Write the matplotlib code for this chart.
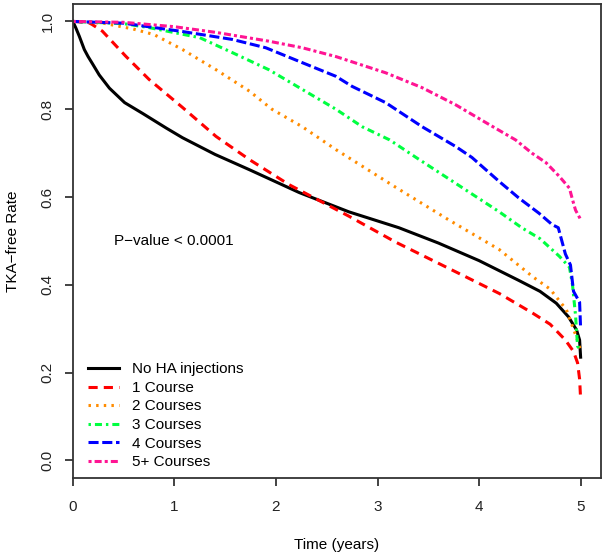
import numpy as np
import matplotlib
matplotlib.use('Agg')
import matplotlib.pyplot as plt

plt.rcParams['font.family'] = ['Liberation Sans', 'DejaVu Sans']

# ─── Courbes (temps en années, taux sans PTG) ──────────────────────────────
t_none = [0, 0.03, 0.064, 0.113, 0.15, 0.195, 0.26, 0.36, 0.51, 0.69, 0.92,
          1.08, 1.4, 1.74, 2.23, 2.72, 3.21, 3.6, 4.0, 4.39, 4.6, 4.76, 4.88,
          4.96, 4.99, 5.0]
s_none = [1.0, 0.985, 0.966, 0.936, 0.92, 0.903, 0.878, 0.848, 0.815, 0.79,
          0.757, 0.735, 0.697, 0.662, 0.61, 0.566, 0.53, 0.495, 0.455, 0.41,
          0.385, 0.358, 0.327, 0.297, 0.274, 0.235]

t_c1 = [0, 0.15, 0.19, 0.29, 0.52, 0.75, 1.08, 1.41, 1.74, 2.13, 2.72, 3.18,
        3.87, 4.2, 4.53, 4.7, 4.85, 4.93, 4.97, 4.99, 5.0]
s_c1 = [1.0, 0.998, 0.993, 0.978, 0.921, 0.868, 0.804, 0.738, 0.685, 0.628,
        0.556, 0.497, 0.418, 0.38, 0.335, 0.31, 0.274, 0.248, 0.222, 0.185,
        0.14]

t_c2 = [0, 0.3, 0.59, 0.8, 1.08, 1.41, 1.74, 1.96, 2.26, 2.59, 3.18, 3.7,
        4.2, 4.53, 4.7, 4.86, 4.96, 5.0]
s_c2 = [1.0, 0.996, 0.983, 0.97, 0.936, 0.89, 0.841, 0.80, 0.76, 0.708,
        0.622, 0.548, 0.48, 0.418, 0.39, 0.343, 0.28, 0.25]

t_c3 = [0, 0.5, 0.75, 1.25, 1.57, 1.93, 2.26, 2.59, 2.85, 3.12, 3.38, 4.2,
        4.42, 4.6, 4.79, 4.89, 4.92, 4.95, 4.97, 5.0]
s_c3 = [1.0, 0.995, 0.986, 0.963, 0.929, 0.89, 0.845, 0.80, 0.76, 0.73,
        0.69, 0.566, 0.53, 0.505, 0.465, 0.44, 0.40, 0.33, 0.26, 0.25]

t_c4 = [0, 0.5, 1.08, 1.57, 1.9, 2.26, 2.59, 2.75, 3.08, 3.44, 3.77, 3.93,
        4.2, 4.39, 4.59, 4.72, 4.78, 4.85, 4.9, 4.93, 4.99, 5.0]
s_c4 = [1.0, 0.996, 0.977, 0.959, 0.94, 0.906, 0.875, 0.852, 0.815, 0.76,
        0.715, 0.69, 0.635, 0.598, 0.563, 0.537, 0.53, 0.47, 0.445, 0.385,
        0.36, 0.30]

t_c5 = [0, 0.5, 1.0, 1.41, 1.93, 2.26, 2.59, 3.08, 3.44, 3.77, 4.1, 4.36,
        4.52, 4.66, 4.79, 4.89, 4.92, 4.95, 4.99, 5.0]
s_c5 = [1.0, 0.998, 0.988, 0.975, 0.955, 0.94, 0.92, 0.883, 0.849, 0.81,
        0.765, 0.73, 0.70, 0.678, 0.647, 0.62, 0.594, 0.57, 0.553, 0.548]

labels = ['No HA injections', '1 Course', '2 Courses', '3 Courses',
          '4 Courses', '5+ Courses']
pvalue_txt = 'P\u2212value < 0.0001'

# ─── Tracé ────────────────────────────────────────────────────────────────
fig = plt.figure(figsize=(6.07, 5.55), dpi=100)
ax = fig.add_axes([0.120, 0.139, 0.870, 0.854])

series = [(t_none, s_none), (t_c1, s_c1), (t_c2, s_c2),
          (t_c3, s_c3), (t_c4, s_c4), (t_c5, s_c5)]
colors = ['black', '#ff0000', '#ff8c00', '#00ff40', '#0000ff', '#ff1493']
dashes = [None, (3, 2), (0.8, 1.7), (0.8, 1.3, 2.3, 1.3), (3.3, 1.2),
          (1, 1, 2.3, 1)]

for (tt, ss), c, d, lab in zip(series, colors, dashes, labels):
    line, = ax.plot(tt, ss, color=c, lw=2.2, label=lab)
    if d is not None:
        line.set_dashes(d)

ax.set_xlim(0, 5.2)
ax.set_ylim(-0.04, 1.04)
ax.set_xticks([0, 1, 2, 3, 4, 5])
ax.set_yticks([0.0, 0.2, 0.4, 0.6, 0.8, 1.0])
ax.set_yticklabels(['0.0', '0.2', '0.4', '0.6', '0.8', '1.0'],
                   rotation=90, va='center')
ax.tick_params(direction='out', length=6, width=1.2, labelsize=11,
               colors='#222222')
ax.tick_params(axis='x', pad=10)
ax.tick_params(axis='y', pad=7)
for sp in ax.spines.values():
    sp.set_linewidth(1.3)
    sp.set_color('#333333')

ax.set_xlabel('Time (years)', fontsize=11, labelpad=17)
ax.set_ylabel('TKA\u2212free Rate', fontsize=11, labelpad=15)

ax.text(0.41, 0.50, pvalue_txt, fontsize=11, va='center', ha='left')

ax.legend(loc='lower left', bbox_to_anchor=(0.0, -0.014), frameon=False,
          fontsize=11, handlelength=2.0, handletextpad=0.85,
          labelspacing=0.3, borderaxespad=0.6)

plt.savefig('out.png', dpi=100)
